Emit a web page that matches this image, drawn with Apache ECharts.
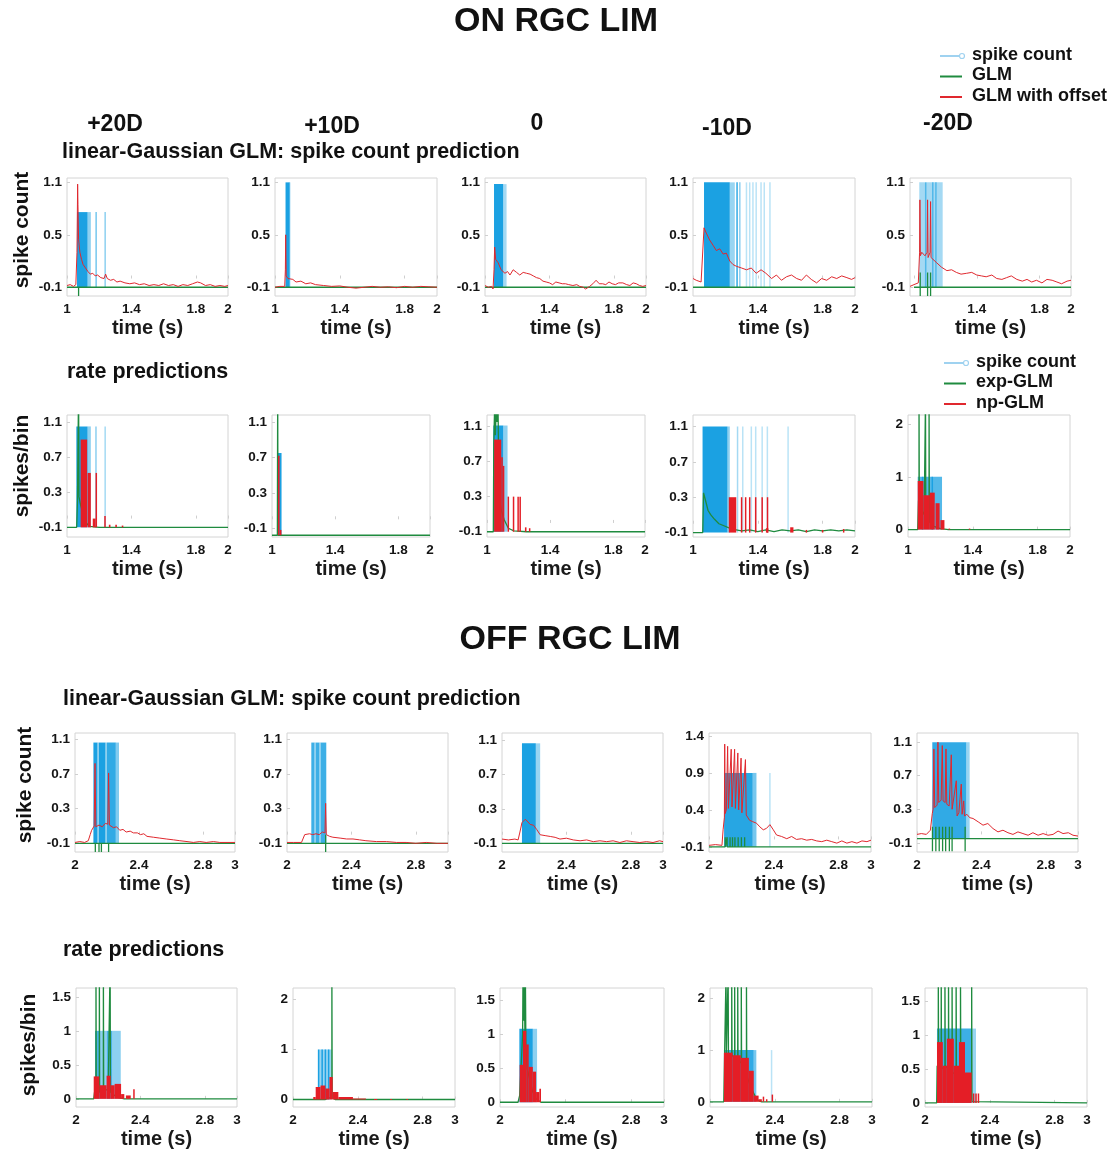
<!DOCTYPE html>
<html><head><meta charset="utf-8">
<script src="https://cdn.jsdelivr.net/npm/echarts@6/dist/echarts.min.js"></script>
<style>html,body{margin:0;padding:0;background:#fff}#c{width:1112px;height:1150px}</style>
</head><body><div id="c"></div><script>
// ---------------- labels / ticks ----------------
const conditions = ['+20D', '+10D', '0', '-10D', '-20D'];
const xTicksOn = [1, 1.4, 1.8, 2];
const xTicksOff = [2, 2.4, 2.8, 3];
const yTicksA = [-0.1, 0.5, 1.1];
const yTicksB = [-0.1, 0.3, 0.7, 1.1];
const yTicksC = [0, 1, 2];
const yTicksD = [0, 0.5, 1, 1.5];
const yTicksE = [-0.1, 0.4, 0.9, 1.4];

// ---------------- ON RGC, spike count prediction ----------------
// spike count blocks: [tStart, tEnd, height, density]
const on_p20_spikes = [[1.062,1.128,0.76,1],[1.128,1.148,0.76,0.5],[1.181,1.181,0.76,0.6],[1.237,1.237,0.76,0.5]];
const on_p10_spikes = [[1.065,1.09,1.1,1],[1.09,1.096,1.1,0.5]];
const on_z0_spikes = [[1.056,1.113,1.08,1],[1.113,1.134,1.08,0.4]];
const on_m10_spikes = [[1.068,1.227,1.1,1],[1.227,1.258,1.1,0.45],[1.272,1.272,1.1,0.9],[1.289,1.289,1.1,0.5],[1.33,1.33,1.1,0.3],[1.35,1.35,1.1,0.3],[1.37,1.37,1.1,0.3],[1.39,1.39,1.1,0.3],[1.42,1.42,1.1,0.3],[1.44,1.44,1.1,0.3],[1.475,1.475,1.1,0.3]];
const on_m20_spikes = [[1.034,1.183,1.1,0.4],[1.075,1.075,1.1,0.6],[1.12,1.12,1.1,0.6],[1.14,1.14,1.1,0.6]];
// GLM
const on_p20_glm = [[1,-0.1],[1.072,-0.1],[1.072,-0.2],[1.072,-0.1],[2,-0.1]];
const on_p10_glm = [[1,-0.1],[2,-0.1]];
const on_z0_glm = [[1,-0.1],[2,-0.1]];
const on_m10_glm = [[1,-0.1],[2,-0.1]];
const on_m20_glm = [[1,-0.1],[1.04,-0.1],[1.04,0.07],[1.04,-0.2],[1.04,-0.1],[1.087,-0.1],[1.087,0.07],[1.087,-0.2],[1.087,-0.1],[1.106,-0.1],[1.106,0.07],[1.106,-0.2],[1.106,-0.1],[2,-0.1]];
// GLM with offset
const on_p20_offset = [[1.00,-0.08],[1.02,-0.07],[1.04,-0.09],[1.055,-0.07],[1.062,0.3],[1.066,1.08],[1.068,0.85],[1.072,0.45],[1.08,0.3],[1.09,0.22],[1.10,0.16],[1.115,0.12],[1.13,0.08],[1.145,0.05],[1.16,0.06],[1.175,0.03],[1.19,0.04],[1.21,0.01],[1.23,0.0],[1.24,0.05],[1.25,0.0],[1.27,-0.02],[1.29,-0.01],[1.31,-0.04],[1.33,-0.03],[1.36,-0.05],[1.39,-0.06],[1.42,-0.05],[1.45,-0.07],[1.48,-0.06],[1.51,-0.08],[1.54,-0.07],[1.57,-0.08],[1.60,-0.06],[1.63,-0.08],[1.66,-0.07],[1.69,-0.09],[1.72,-0.07],[1.75,-0.08],[1.78,-0.06],[1.81,-0.04],[1.83,-0.05],[1.86,-0.08],[1.89,-0.07],[1.92,-0.09],[1.95,-0.08],[1.98,-0.09],[2.00,-0.08]];
const on_p10_offset = [[1.0,-0.1],[1.03,-0.09],[1.06,-0.09],[1.064,0.1],[1.066,0.5],[1.069,0.03],[1.08,0.0],[1.09,-0.02],[1.11,-0.01],[1.13,-0.04],[1.16,-0.03],[1.19,-0.06],[1.22,-0.05],[1.25,-0.07],[1.3,-0.08],[1.35,-0.09],[1.4,-0.085],[1.45,-0.1],[1.5,-0.11],[1.55,-0.1],[1.6,-0.09],[1.65,-0.1],[1.7,-0.095],[1.75,-0.105],[1.8,-0.09],[1.85,-0.1],[1.9,-0.09],[1.95,-0.095],[2.0,-0.1]];
const on_z0_offset = [[1.0,-0.08],[1.02,-0.1],[1.04,-0.09],[1.05,-0.12],[1.056,0.1],[1.06,0.36],[1.066,0.22],[1.082,0.18],[1.10,0.1],[1.124,0.06],[1.14,0.08],[1.155,0.04],[1.175,0.1],[1.196,0.07],[1.216,0.04],[1.237,0.07],[1.258,0.06],[1.28,0.05],[1.3,0.03],[1.32,0.01],[1.34,0.0],[1.36,-0.03],[1.38,-0.04],[1.40,-0.05],[1.42,-0.07],[1.44,-0.04],[1.46,-0.05],[1.48,-0.06],[1.5,-0.06],[1.52,-0.07],[1.546,-0.08],[1.57,-0.07],[1.588,-0.09],[1.61,-0.1],[1.625,-0.12],[1.65,-0.09],[1.67,-0.06],[1.69,-0.02],[1.71,-0.06],[1.73,-0.06],[1.75,-0.07],[1.77,-0.04],[1.79,-0.06],[1.81,-0.07],[1.83,-0.05],[1.856,-0.05],[1.88,-0.07],[1.9,-0.08],[1.92,-0.05],[1.94,-0.06],[1.96,-0.08],[1.98,-0.09],[2.0,-0.08]];
const on_m10_offset = [[1.0,0.0],[1.02,-0.02],[1.05,-0.04],[1.062,-0.03],[1.068,0.58],[1.082,0.52],[1.103,0.44],[1.124,0.38],[1.144,0.32],[1.165,0.34],[1.186,0.28],[1.206,0.29],[1.227,0.2],[1.247,0.16],[1.268,0.14],[1.3,0.12],[1.33,0.1],[1.36,0.12],[1.39,0.06],[1.42,0.1],[1.45,0.06],[1.485,0.0],[1.515,0.04],[1.546,-0.02],[1.577,0.02],[1.608,0.04],[1.64,0.0],[1.67,-0.02],[1.70,0.04],[1.73,-0.01],[1.763,-0.05],[1.794,0.0],[1.825,-0.02],[1.856,0.02],[1.887,0.0],[1.918,0.03],[1.95,0.01],[1.979,-0.01],[2.0,0.01]];
const on_m20_offset = [[0.975,-0.09],[1.0,-0.07],[1.028,-0.05],[1.036,0.3],[1.038,0.9],[1.041,0.26],[1.05,0.3],[1.07,0.26],[1.084,0.3],[1.087,0.9],[1.09,0.24],[1.103,0.3],[1.106,0.88],[1.109,0.24],[1.12,0.22],[1.145,0.18],[1.175,0.13],[1.21,0.09],[1.24,0.1],[1.27,0.07],[1.3,0.05],[1.336,0.06],[1.368,0.07],[1.4,0.04],[1.43,0.03],[1.46,0.02],[1.496,0.04],[1.527,0.0],[1.56,-0.01],[1.59,0.01],[1.62,0.03],[1.655,-0.01],[1.69,-0.03],[1.72,-0.01],[1.75,-0.04],[1.78,-0.02],[1.815,-0.05],[1.847,-0.01],[1.88,-0.02],[1.91,-0.04],[1.94,-0.06],[1.975,-0.03],[2.0,-0.02]];

// ---------------- ON RGC, rate predictions ----------------
const onr_p20_spikes = [[1.058,1.128,1.05,1],[1.128,1.148,1.05,0.5],[1.18,1.18,1.05,0.5],[1.237,1.237,1.05,0.4]];
const onr_p10_spikes = [[1.035,1.058,0.75,1],[1.058,1.065,0.75,0.5]];
const onr_z0_spikes = [[1.04,1.103,1.11,1],[1.103,1.13,1.11,0.5]];
const onr_m10_spikes = [[1.059,1.213,1.1,1],[1.213,1.227,1.1,0.5],[1.275,1.275,1.1,0.4],[1.307,1.307,1.1,0.3],[1.36,1.36,1.1,0.3],[1.387,1.387,1.1,0.3],[1.427,1.427,1.1,0.3],[1.459,1.459,1.1,0.3],[1.587,1.587,1.1,0.3]];
const onr_m20_spikes = [[1.06,1.21,1.0,0.75],[1.09,1.09,1.0,1],[1.15,1.15,1.0,1]];
const onr_p20_exp = [[1,-0.1],[1.06,-0.1],[1.065,0.2],[1.072,0.2],[1.072,1.5],[1.074,0.25],[1.085,0.15],[1.1,0.05],[1.12,-0.05],[1.14,-0.09],[1.2,-0.1],[2,-0.1]];
const onr_p10_exp = [[1,-0.18],[1.034,-0.18],[1.036,1.5],[1.038,-0.18],[2,-0.18]];
const onr_z0_exp = [[1,-0.1],[1.04,-0.1],[1.043,0.9],[1.048,1.3],[1.053,1.0],[1.058,1.3],[1.064,1.15],[1.07,1.3],[1.076,0.3],[1.081,0.28],[1.09,0.15],[1.108,0.04],[1.135,-0.06],[1.17,-0.09],[1.25,-0.1],[2,-0.1]];
const onr_m10_exp = [[1,-0.1],[1.06,-0.1],[1.065,0.35],[1.075,0.28],[1.093,0.15],[1.11,0.1],[1.133,0.05],[1.16,0.0],[1.187,-0.02],[1.24,-0.06],[1.3,-0.08],[1.35,-0.07],[1.4,-0.09],[1.45,-0.07],[1.5,-0.09],[1.55,-0.07],[1.6,-0.08],[1.65,-0.07],[1.7,-0.09],[1.75,-0.07],[1.8,-0.08],[1.85,-0.07],[1.9,-0.08],[1.95,-0.07],[2,-0.08]];
const onr_m20_exp = [[1,0],[1.06,0],[1.065,0.55],[1.068,0.5],[1.068,2.5],[1.07,0.45],[1.08,0.4],[1.1,0.28],[1.108,0.26],[1.108,2.5],[1.11,0.25],[1.13,0.16],[1.13,2.5],[1.132,0.15],[1.16,0.06],[1.2,0.02],[1.25,0.0],[2,0]];
// np-GLM blocks: [tStart, tEnd, height]
const onr_p20_np = [[1.085,1.125,0.9],[1.128,1.148,0.52],[1.16,1.178,0.0],[1.182,1.182,0.52],[1.236,1.236,0.03],[1.26,1.27,-0.07],[1.3,1.31,-0.07],[1.34,1.35,-0.08]];
const onr_p10_np = [[1.038,1.048,0.72],[1.055,1.062,-0.12]];
const onr_z0_np = [[1.045,1.09,0.95],[1.09,1.1,0.75],[1.105,1.112,0.65],[1.135,1.135,0.3],[1.168,1.168,0.3],[1.197,1.197,0.3],[1.21,1.21,0.3],[1.24,1.25,-0.05],[1.27,1.275,-0.06]];
const onr_m10_np = [[1.221,1.267,0.3],[1.3,1.3,0.3],[1.325,1.325,0.3],[1.35,1.35,0.3],[1.387,1.387,0.3],[1.427,1.427,0.3],[1.46,1.46,0.3],[1.45,1.465,-0.05],[1.6,1.62,-0.04],[1.7,1.705,-0.07],[1.8,1.805,-0.07],[1.93,1.935,-0.06]];
const onr_m20_np = [[1.06,1.095,0.92],[1.095,1.135,0.65],[1.135,1.165,0.7],[1.17,1.195,0.5],[1.2,1.225,0.18],[1.25,1.26,0.02],[1.38,1.385,0.02]];

// ---------------- OFF RGC, spike count prediction ----------------
const off_p20_spikes = [[2.115,2.14,1.06,1],[2.14,2.15,1.06,0.5],[2.15,2.19,1.06,1],[2.19,2.2,1.06,0.5],[2.2,2.255,1.06,0.9],[2.255,2.275,1.06,0.55]];
const off_p10_spikes = [[2.151,2.17,1.06,0.85],[2.17,2.18,1.06,0.5],[2.18,2.2,1.06,0.85],[2.2,2.21,1.06,0.5],[2.21,2.244,1.06,0.85]];
const off_z0_spikes = [[2.124,2.21,1.06,1],[2.21,2.237,1.06,0.45]];
const off_m10_spikes = [[2.093,2.27,0.9,0.95],[2.27,2.293,0.9,0.6],[2.376,2.376,0.9,0.3]];
const off_m20_spikes = [[2.095,2.306,1.1,0.9],[2.306,2.327,1.1,0.45]];
const off_p20_glm = [[2,-0.1],[2.127,-0.1],[2.127,-0.2],[2.127,-0.1],[2.15,-0.1],[2.15,-0.2],[2.15,-0.1],[2.165,-0.1],[2.165,-0.2],[2.165,-0.1],[2.21,-0.1],[2.21,-0.2],[2.21,-0.1],[3,-0.1]];
const off_p10_glm = [[2,-0.1],[2.24,-0.1],[2.24,0.0],[2.24,-0.2],[2.24,-0.1],[3,-0.1]];
const off_z0_glm = [[2,-0.1],[3,-0.1]];
const off_m10_glm = [[2,-0.1],[2.1,-0.1],[2.1,0.03],[2.1,-0.1],[2.112,-0.1],[2.112,0.03],[2.112,-0.1],[2.13,-0.1],[2.13,0.03],[2.13,-0.1],[2.145,-0.1],[2.145,0.03],[2.145,-0.1],[2.16,-0.1],[2.16,0.03],[2.16,-0.1],[2.18,-0.1],[2.18,0.03],[2.18,-0.1],[2.2,-0.1],[2.2,0.03],[2.2,-0.1],[2.22,-0.1],[2.22,0.03],[2.22,-0.1],[3,-0.1]];
const off_m20_glm = [[2,-0.05],[2.096,-0.05],[2.096,0.09],[2.096,-0.2],[2.096,-0.05],[2.117,-0.05],[2.117,0.09],[2.117,-0.2],[2.117,-0.05],[2.138,-0.05],[2.138,0.09],[2.138,-0.2],[2.138,-0.05],[2.159,-0.05],[2.159,0.09],[2.159,-0.2],[2.159,-0.05],[2.178,-0.05],[2.178,0.09],[2.178,-0.2],[2.178,-0.05],[2.201,-0.05],[2.201,0.09],[2.201,-0.2],[2.201,-0.05],[2.218,-0.05],[2.218,0.09],[2.218,-0.2],[2.218,-0.05],[2.299,-0.05],[2.299,0.09],[2.299,-0.2],[2.299,-0.05],[3,-0.05]];
const off_p20_offset = [[2.0,-0.09],[2.03,-0.08],[2.06,-0.09],[2.083,-0.07],[2.095,0.0],[2.104,0.05],[2.12,0.1],[2.125,0.82],[2.13,0.09],[2.15,0.11],[2.17,0.09],[2.19,0.13],[2.205,0.12],[2.21,0.71],[2.215,0.11],[2.24,0.08],[2.26,0.09],[2.28,0.05],[2.3,0.06],[2.32,0.03],[2.345,0.04],[2.365,0.02],[2.39,0.02],[2.41,0.0],[2.43,0.01],[2.45,-0.02],[2.49,-0.03],[2.53,-0.04],[2.57,-0.05],[2.615,-0.06],[2.655,-0.07],[2.7,-0.08],[2.74,-0.09],[2.78,-0.08],[2.82,-0.09],[2.865,-0.08],[2.905,-0.09],[2.95,-0.09],[3.0,-0.09]];
const off_p10_offset = [[2.0,-0.09],[2.04,-0.09],[2.09,-0.09],[2.11,0.0],[2.14,0.01],[2.16,0.0],[2.18,0.01],[2.2,0.0],[2.22,0.03],[2.236,0.02],[2.24,0.36],[2.244,0.0],[2.255,0.0],[2.265,-0.02],[2.285,-0.03],[2.33,-0.04],[2.37,-0.05],[2.41,-0.05],[2.45,-0.06],[2.49,-0.07],[2.555,-0.08],[2.617,-0.08],[2.68,-0.09],[2.74,-0.09],[2.8,-0.1],[2.865,-0.09],[2.93,-0.1],[3.0,-0.1]];
const off_z0_offset = [[2.0,-0.05],[2.04,-0.06],[2.08,-0.05],[2.1,-0.06],[2.11,0.02],[2.124,0.14],[2.145,0.18],[2.155,0.17],[2.175,0.12],[2.196,0.11],[2.216,0.06],[2.237,0.0],[2.268,-0.01],[2.3,-0.02],[2.33,-0.03],[2.36,-0.05],[2.4,-0.04],[2.443,-0.06],[2.485,-0.07],[2.526,-0.06],[2.567,-0.08],[2.608,-0.07],[2.65,-0.08],[2.69,-0.07],[2.732,-0.09],[2.773,-0.07],[2.814,-0.08],[2.856,-0.09],[2.897,-0.08],[2.938,-0.09],[2.979,-0.07],[3.0,-0.08]];
const off_m10_offset = [[2.0,-0.08],[2.04,-0.07],[2.08,-0.08],[2.087,0.13],[2.095,0.3],[2.097,1.29],[2.1,0.35],[2.107,0.4],[2.115,1.26],[2.12,0.42],[2.13,0.42],[2.137,1.22],[2.142,0.44],[2.15,0.44],[2.158,1.22],[2.163,0.42],[2.17,0.42],[2.178,1.17],[2.183,0.4],[2.19,0.38],[2.198,1.1],[2.203,0.36],[2.21,0.35],[2.225,1.08],[2.23,0.33],[2.25,0.26],[2.27,0.24],[2.293,0.22],[2.314,0.17],[2.335,0.13],[2.355,0.15],[2.376,0.2],[2.397,0.13],[2.417,0.06],[2.448,0.04],[2.48,0.01],[2.51,0.04],[2.54,0.0],[2.572,0.01],[2.603,-0.01],[2.634,0.0],[2.665,-0.02],[2.696,-0.03],[2.727,-0.01],[2.758,-0.03],[2.789,-0.05],[2.82,-0.02],[2.851,-0.05],[2.882,-0.03],[2.913,-0.05],[2.944,-0.02],[2.975,-0.03],[3.0,-0.01]];
const off_m20_offset = [[2.0,0.0],[2.027,0.01],[2.058,0.0],[2.083,0.05],[2.095,0.25],[2.1,0.3],[2.105,1.02],[2.11,0.32],[2.125,0.35],[2.13,1.1],[2.135,0.38],[2.15,0.41],[2.157,1.06],[2.162,0.4],[2.175,0.38],[2.18,1.02],[2.185,0.36],[2.2,0.34],[2.213,0.95],[2.218,0.3],[2.23,0.3],[2.244,0.64],[2.249,0.22],[2.26,0.26],[2.275,0.6],[2.28,0.24],[2.29,0.4],[2.295,0.22],[2.31,0.24],[2.327,0.2],[2.348,0.19],[2.38,0.15],[2.41,0.11],[2.44,0.13],[2.472,0.07],[2.503,0.03],[2.534,0.05],[2.565,0.02],[2.596,0.0],[2.627,0.03],[2.658,0.01],[2.69,-0.01],[2.72,0.02],[2.752,-0.01],[2.783,0.01],[2.814,-0.01],[2.845,0.0],[2.876,0.04],[2.907,0.01],[2.94,0.02],[2.969,-0.01],[3.0,-0.02]];

// ---------------- OFF RGC, rate predictions ----------------
const offr_p20_spikes = [[2.118,2.15,1,0.8],[2.15,2.19,1,0.5],[2.19,2.225,1,0.8],[2.225,2.278,1,0.5]];
const offr_p10_spikes = [[2.158,2.24,1,0.45],[2.158,2.158,1,1],[2.18,2.18,1,1],[2.2,2.2,1,1],[2.22,2.22,1,1]];
const offr_z0_spikes = [[2.118,2.2,1.08,1],[2.2,2.226,1.08,0.5]];
const offr_m10_spikes = [[2.086,2.27,1,0.9],[2.27,2.286,1,0.6],[2.38,2.38,1,0.3]];
const offr_m20_spikes = [[2.074,2.288,1.1,0.85],[2.288,2.315,1.1,0.45]];
const offr_p20_exp = [[2,0],[2.11,0],[2.118,0.15],[2.124,0.12],[2.124,2],[2.126,0.12],[2.145,0.1],[2.145,2],[2.147,0.1],[2.17,0.12],[2.17,2],[2.172,0.12],[2.2,0.14],[2.212,0.12],[2.212,2],[2.214,0.1],[2.24,0.05],[2.26,0.02],[2.3,0],[3,0]];
const offr_p10_exp = [[2,0],[2.2,0],[2.24,0.05],[2.24,2.5],[2.242,0.03],[2.26,0],[3,0]];
const offr_z0_exp = [[2,0],[2.11,0],[2.12,0.1],[2.13,0.6],[2.138,1.0],[2.14,1.8],[2.145,1.2],[2.148,1.8],[2.152,1.0],[2.155,1.8],[2.158,0.8],[2.165,0.5],[2.18,0.35],[2.2,0.15],[2.22,0.05],[2.25,0.0],[3,0]];
const offr_m10_exp = [[2,0],[2.085,0],[2.09,0.9],[2.099,0.88],[2.099,2.5],[2.101,0.88],[2.112,0.85],[2.112,2.5],[2.114,0.85],[2.134,0.9],[2.134,2.5],[2.136,0.9],[2.152,0.85],[2.152,2.5],[2.154,0.85],[2.171,0.8],[2.171,2.5],[2.173,0.8],[2.193,0.75],[2.193,2.5],[2.195,0.7],[2.21,0.6],[2.225,0.5],[2.225,2.5],[2.227,0.5],[2.25,0.3],[2.28,0.1],[2.3,0.02],[2.32,0],[3,0]];
const offr_m20_exp = [[2,0],[2.072,0],[2.075,0.55],[2.082,0.5],[2.082,2],[2.084,0.5],[2.1,0.5],[2.1,2],[2.102,0.5],[2.123,0.55],[2.123,2],[2.125,0.55],[2.145,0.5],[2.145,2],[2.147,0.5],[2.167,0.45],[2.167,2],[2.169,0.45],[2.192,0.42],[2.192,2],[2.194,0.42],[2.219,0.35],[2.219,2],[2.221,0.35],[2.25,0.25],[2.27,0.15],[2.288,0.05],[2.288,2],[2.29,0.02],[2.3,0],[3,0]];
const offr_p20_np = [[2.11,2.145,0.33],[2.145,2.19,0.2],[2.19,2.215,0.34],[2.215,2.24,0.2],[2.24,2.28,0.22],[2.28,2.3,0.07],[2.31,2.34,0.05],[2.36,2.362,0.14]];
const offr_p10_np = [[2.125,2.14,0.05],[2.14,2.17,0.25],[2.17,2.2,0.28],[2.2,2.225,0.22],[2.225,2.245,0.45],[2.245,2.28,0.15],[2.28,2.37,0.05],[2.37,2.45,0.02],[2.5,2.52,0.01],[2.6,2.61,0.01],[2.7,2.71,0.01]];
const offr_z0_np = [[2.12,2.14,0.55],[2.14,2.16,1.05],[2.16,2.175,0.85],[2.175,2.2,0.52],[2.2,2.22,0.45],[2.22,2.24,0.15],[2.24,2.25,0.2]];
const offr_m10_np = [[2.086,2.14,0.95],[2.14,2.19,0.9],[2.19,2.24,0.85],[2.24,2.27,0.6],[2.27,2.3,0.12],[2.3,2.32,0.05],[2.33,2.335,0.1],[2.35,2.355,0.05],[2.385,2.39,0.14]];
const offr_m20_np = [[2.074,2.11,0.9],[2.11,2.135,0.55],[2.135,2.178,0.95],[2.178,2.21,0.55],[2.21,2.247,0.9],[2.247,2.288,0.45],[2.3,2.305,0.14],[2.315,2.32,0.14],[2.33,2.335,0.14]];

// ---------------- layout / style ----------------
const FONT = "'Liberation Sans', Arial, Helvetica, sans-serif";
const BLUE = [27, 161, 226];
const REDRGB = [228, 30, 38];
const GREEN = '#1f8b3f';
const RED = '#e0282e';
const LIGHTBLUE = '#9fd2f0';

const grids = [], xAxes = [], yAxes = [], series = [];

function blockSeries(gi, data, base, rgb, z) {
  series.push({
    type: 'custom', xAxisIndex: gi, yAxisIndex: gi, z: z, silent: true, animation: false,
    renderItem: function (params, api) {
      const t0 = api.value(0), t1 = api.value(1), h = api.value(2);
      let d = api.value(3); if (!(d > 0)) d = 1;
      const a = api.coord([t0, h]), b = api.coord([t1, base]);
      let x = a[0], w = b[0] - a[0];
      if (w < 1.5) { x -= 0.75; w = 1.5; }
      const y = Math.min(a[1], b[1]);
      const hh = Math.max(Math.abs(b[1] - a[1]), 1);
      const cs = params.coordSys;
      const shape = echarts.graphic.clipRectByRect({x: x, y: y, width: w, height: hh}, {x: cs.x, y: cs.y, width: cs.width, height: cs.height});
      if (!shape) return null;
      return {type: 'rect', shape: shape, style: {fill: 'rgba(' + rgb[0] + ',' + rgb[1] + ',' + rgb[2] + ',' + d + ')'}};
    },
    data: data
  });
}
function lineSeries(gi, data, color, width, z) {
  series.push({type: 'line', xAxisIndex: gi, yAxisIndex: gi, data: data, symbol: 'none', showSymbol: false,
    lineStyle: {color: color, width: width}, itemStyle: {color: color}, z: z, silent: true, animation: false, clip: true});
}

function addPanel(p) {
  const gi = grids.length;
  grids.push({left: p.box[0], top: p.box[1], width: p.box[2] - p.box[0], height: p.box[3] - p.box[1],
    show: true, borderColor: '#d4d4d4', borderWidth: 1, backgroundColor: '#fff'});
  xAxes.push({gridIndex: gi, type: 'value', min: p.x[0], max: p.x[1],
    axisLine: {show: false}, splitLine: {show: false},
    axisTick: {show: true, inside: true, length: 3, customValues: p.xt, lineStyle: {color: '#cfcfcf'}},
    axisLabel: {customValues: p.xt, margin: 6, fontSize: 13.5, fontWeight: 'bold', color: '#151515', fontFamily: FONT},
    name: 'time (s)', nameLocation: 'middle', nameGap: 22,
    nameTextStyle: {fontSize: 20, fontWeight: 'bold', color: '#1a1a1a', fontFamily: FONT}});
  yAxes.push({gridIndex: gi, type: 'value', min: p.y[0], max: p.y[1],
    axisLine: {show: false}, splitLine: {show: false},
    axisTick: {show: true, inside: true, length: 3, customValues: p.yt, lineStyle: {color: '#cfcfcf'}},
    axisLabel: {customValues: p.yt, margin: 5, fontSize: 13.5, fontWeight: 'bold', color: '#151515', fontFamily: FONT}});
  blockSeries(gi, p.spikes, p.base, BLUE, 2);
  lineSeries(gi, p.glm, GREEN, 1.3, 3);
  if (p.kind === 'count') {
    lineSeries(gi, p.offset, RED, 1, 4);
  } else {
    blockSeries(gi, p.np, p.base, REDRGB, 4);
  }
}

const on = [1, 2], onM20 = [0.975, 2], off = [2, 3];
// Row 1: ON spike count
addPanel({kind: 'count', box: [67, 178, 228, 296], x: on, y: [-0.2, 1.15], xt: xTicksOn, yt: yTicksA, base: -0.1, spikes: on_p20_spikes, glm: on_p20_glm, offset: on_p20_offset});
addPanel({kind: 'count', box: [275, 178, 437, 296], x: on, y: [-0.2, 1.15], xt: xTicksOn, yt: yTicksA, base: -0.1, spikes: on_p10_spikes, glm: on_p10_glm, offset: on_p10_offset});
addPanel({kind: 'count', box: [485, 178, 646, 296], x: on, y: [-0.2, 1.15], xt: xTicksOn, yt: yTicksA, base: -0.1, spikes: on_z0_spikes, glm: on_z0_glm, offset: on_z0_offset});
addPanel({kind: 'count', box: [693, 178, 855, 296], x: on, y: [-0.2, 1.15], xt: xTicksOn, yt: yTicksA, base: -0.1, spikes: on_m10_spikes, glm: on_m10_glm, offset: on_m10_offset});
addPanel({kind: 'count', box: [910, 178, 1071, 296], x: onM20, y: [-0.2, 1.15], xt: xTicksOn, yt: yTicksA, base: -0.1, spikes: on_m20_spikes, glm: on_m20_glm, offset: on_m20_offset});
// Row 2: ON rate
addPanel({kind: 'rate', box: [67, 415, 228, 537], x: on, y: [-0.21, 1.18], xt: xTicksOn, yt: yTicksB, base: -0.1, spikes: onr_p20_spikes, glm: onr_p20_exp, np: onr_p20_np});
addPanel({kind: 'rate', box: [272, 415, 430, 537], x: on, y: [-0.2, 1.18], xt: xTicksOn, yt: yTicksB, base: -0.18, spikes: onr_p10_spikes, glm: onr_p10_exp, np: onr_p10_np});
addPanel({kind: 'rate', box: [487, 415, 645, 537], x: on, y: [-0.16, 1.23], xt: xTicksOn, yt: yTicksB, base: -0.1, spikes: onr_z0_spikes, glm: onr_z0_exp, np: onr_z0_np});
addPanel({kind: 'rate', box: [693, 415, 855, 537], x: on, y: [-0.15, 1.23], xt: xTicksOn, yt: yTicksB, base: -0.1, spikes: onr_m10_spikes, glm: onr_m10_exp, np: onr_m10_np});
addPanel({kind: 'rate', box: [908, 415, 1070, 537], x: on, y: [-0.14, 2.17], xt: xTicksOn, yt: yTicksC, base: 0, spikes: onr_m20_spikes, glm: onr_m20_exp, np: onr_m20_np});
// Row 3: OFF spike count
addPanel({kind: 'count', box: [75, 733, 235, 852], x: off, y: [-0.2, 1.17], xt: xTicksOff, yt: yTicksB, base: -0.1, spikes: off_p20_spikes, glm: off_p20_glm, offset: off_p20_offset});
addPanel({kind: 'count', box: [287, 733, 448, 852], x: off, y: [-0.2, 1.17], xt: xTicksOff, yt: yTicksB, base: -0.1, spikes: off_p10_spikes, glm: off_p10_glm, offset: off_p10_offset});
addPanel({kind: 'count', box: [502, 733, 663, 852], x: off, y: [-0.2, 1.18], xt: xTicksOff, yt: yTicksB, base: -0.1, spikes: off_z0_spikes, glm: off_z0_glm, offset: off_z0_offset});
addPanel({kind: 'count', box: [709, 733, 871, 852], x: off, y: [-0.17, 1.44], xt: xTicksOff, yt: yTicksE, base: -0.1, spikes: off_m10_spikes, glm: off_m10_glm, offset: off_m10_offset});
addPanel({kind: 'count', box: [917, 733, 1078, 852], x: off, y: [-0.21, 1.21], xt: xTicksOff, yt: yTicksB, base: -0.05, spikes: off_m20_spikes, glm: off_m20_glm, offset: off_m20_offset});
// Row 4: OFF rate
addPanel({kind: 'rate', box: [76, 988, 237, 1107], x: off, y: [-0.12, 1.63], xt: xTicksOff, yt: yTicksD, base: 0, spikes: offr_p20_spikes, glm: offr_p20_exp, np: offr_p20_np});
addPanel({kind: 'rate', box: [293, 988, 455, 1107], x: off, y: [-0.15, 2.23], xt: xTicksOff, yt: yTicksC, base: 0, spikes: offr_p10_spikes, glm: offr_p10_exp, np: offr_p10_np});
addPanel({kind: 'rate', box: [500, 988, 664, 1107], x: off, y: [-0.07, 1.68], xt: xTicksOff, yt: yTicksD, base: 0, spikes: offr_z0_spikes, glm: offr_z0_exp, np: offr_z0_np});
addPanel({kind: 'rate', box: [710, 988, 872, 1107], x: off, y: [-0.1, 2.2], xt: xTicksOff, yt: yTicksC, base: 0, spikes: offr_m10_spikes, glm: offr_m10_exp, np: offr_m10_np});
addPanel({kind: 'rate', box: [925, 988, 1087, 1107], x: off, y: [-0.06, 1.7], xt: xTicksOff, yt: yTicksD, base: 0, spikes: offr_m20_spikes, glm: offr_m20_exp, np: offr_m20_np});

// ---------------- texts & legends ----------------
function txt(s, x, y, size, align, rot) {
  return {type: 'text', x: x, y: y, rotation: rot || 0, z: 10, silent: true,
    style: {text: s, font: 'bold ' + size + 'px ' + FONT, fill: '#111', align: align || 'left', textAlign: align || 'left', verticalAlign: 'middle', textVerticalAlign: 'middle'}};
}
const headerX = [115, 332, 537, 727, 948], headerY = [125, 127, 124, 129, 124];
const graphics = [
  txt('ON RGC LIM', 556, 22, 34, 'center'),
  txt('OFF RGC LIM', 570, 640, 34, 'center'),
  txt('linear-Gaussian GLM: spike count prediction', 62, 152, 21.5),
  txt('rate predictions', 67, 372, 21.5),
  txt('linear-Gaussian GLM: spike count prediction', 63, 699, 21.5),
  txt('rate predictions', 63, 950, 21.5),
  txt('spike count', 22, 230, 21, 'center', Math.PI / 2),
  txt('spikes/bin', 22, 466, 21, 'center', Math.PI / 2),
  txt('spike count', 25, 785, 21, 'center', Math.PI / 2),
  txt('spikes/bin', 29, 1045, 21, 'center', Math.PI / 2)
];
conditions.forEach(function (c, i) { graphics.push(txt(c, headerX[i], headerY[i], 23, 'center')); });

function legend(x0, y0, names, colors) {
  names.forEach(function (n, i) {
    const y = y0 + i * 20.5;
    graphics.push({type: 'line', z: 10, silent: true, shape: {x1: x0, y1: y, x2: x0 + 22, y2: y}, style: {stroke: colors[i], lineWidth: 2}});
    if (i === 0) graphics.push({type: 'circle', z: 11, silent: true, shape: {cx: x0 + 22, cy: y, r: 2.5}, style: {fill: '#fff', stroke: colors[i], lineWidth: 1.2}});
    graphics.push(txt(n, x0 + 32, y - 1, 18));
  });
}
legend(940, 56, ['spike count', 'GLM', 'GLM with offset'], [LIGHTBLUE, GREEN, RED]);
legend(944, 363, ['spike count', 'exp-GLM', 'np-GLM'], [LIGHTBLUE, GREEN, RED]);

const chart = echarts.init(document.getElementById('c'), null, {renderer: 'canvas'});
chart.setOption({
  animation: false,
  backgroundColor: '#fff',
  grid: grids, xAxis: xAxes, yAxis: yAxes, series: series,
  graphic: {elements: graphics}
});
</script></body></html>
